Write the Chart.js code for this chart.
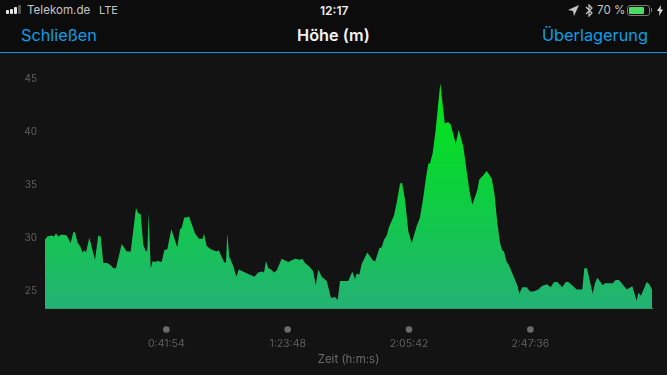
<!DOCTYPE html>
<html>
<head>
<meta charset="utf-8">
<script src="https://cdn.jsdelivr.net/npm/chart.js@4"></script>
<style>
  html, body { margin: 0; padding: 0; background: #131313; overflow: hidden; }
  #wrap { position: relative; width: 667px; height: 375px; overflow: hidden; font-family: Inter, Roboto, sans-serif; }
  #myChart { position: absolute; left: 0; top: 0; }
  #head { position: absolute; left: 0; top: 0; width: 667px; height: 52px; background: #0c0c0c; border-bottom: 1px solid #0a9ae0; z-index: 2; }
  #head span, #head svg, #head i { position: absolute; white-space: nowrap; }
  .st { top: 3px; font-size: 11.6px; line-height: 15px; color: #c4c4c4; }
  .nav { top: 25px; font-size: 16.3px; line-height: 21px; color: #0b9fe6; }
  .bar { display: block; width: 3px; background: #e8e8e8; border-radius: 1px; }
</style>
</head>
<body>
<div id="wrap">
  <canvas id="myChart" width="667" height="375"></canvas>
  <div id="head">
    <i class="bar" style="left:6px;top:10px;height:4px"></i>
    <i class="bar" style="left:10px;top:9px;height:5px"></i>
    <i class="bar" style="left:14px;top:7px;height:7px"></i>
    <i class="bar" style="left:18px;top:5px;height:9px;background:#555"></i>
    <span class="st" style="left:27px">Telekom.de</span>
    <span class="st" style="left:99px;font-size:11px">LTE</span>
    <span class="st" style="left:320px;color:#f0f0f0;font-weight:600;font-size:12px">12:17</span>
    <svg style="left:568px;top:5px" width="11" height="11" viewBox="0 0 11 11"><path d="M11 0L0 5L5 6L6 11Z" fill="#c4c4c4"/></svg>
    <svg style="left:585px;top:4px" width="8" height="13" viewBox="0 0 8 13"><path d="M1 3L7 9L4 12V1L7 4L1 10" fill="none" stroke="#c4c4c4" stroke-width="1.2"/></svg>
    <span class="st" style="left:597px">70 %</span>
    <i style="left:627px;top:5px;width:21px;height:9px;border:1px solid #777;border-radius:3px"></i>
    <i style="left:629px;top:7px;width:15px;height:7px;background:#4cd964;border-radius:1px"></i>
    <i style="left:651px;top:8px;width:1px;height:4px;background:#777"></i>
    <svg style="left:657px;top:5px" width="6" height="11" viewBox="0 0 6 11"><path d="M4 0L0 6H2.5L2 11L6 4.5H3.5Z" fill="#e0e0e0"/></svg>
    <span class="nav" style="left:21px">Schließen</span>
    <span class="nav" style="left:297px;color:#f2f2f2;font-weight:600">Höhe (m)</span>
    <span class="nav" style="left:542px">Überlagerung</span>
  </div>
</div>
<script>
const elapsedSeconds = [
  0, 48, 139, 186, 228, 276, 346, 450, 532, 586, 622, 678, 725, 781, 814, 850, 918, 1036, 1104, 1154,
  1208, 1291, 1361, 1415, 1471, 1589, 1693, 1776, 1885, 1933, 1983, 2037, 2093, 2120, 2149, 2190, 2232, 2279, 2327, 2418,
  2472, 2534, 2617, 2741, 2797, 2832, 2886, 2936, 2984, 3108, 3191, 3268, 3294, 3350, 3433, 3558, 3599, 3709, 3750, 3777,
  3819, 3902, 3964, 4014, 4144, 4248, 4337, 4420, 4490, 4538, 4579, 4627, 4683, 4745, 4801, 4904, 5041, 5180, 5284, 5331,
  5387, 5491, 5559, 5609, 5663, 5733, 5837, 5926, 6009, 6065, 6112, 6284, 6367, 6423, 6458, 6512, 6562, 6678, 6803, 6844,
  6927, 6977, 7024, 7080, 7128, 7231, 7287, 7356, 7397, 7459, 7528, 7598, 7702, 7770, 7838, 7888, 7942, 7977, 8033, 8095,
  8191, 8282, 8357, 8406, 8510, 8572, 8667, 8792, 8854, 8958, 8999, 9082, 9152, 9256, 9314, 9372, 9428, 9475, 9510, 9566,
  9614, 9794, 9827, 9889, 9981, 10049, 10117, 10221, 10291, 10395, 10478, 10546, 10615, 10718, 10789, 10843, 10946, 11017, 11133, 11174,
  11230, 11348, 11396, 11444, 11556, 11603, 11763, 11825, 11893, 12053, 12169, 12260, 12293, 12349, 12467, 12521, 12577,
];

const altitudeMeters = [
  29.7, 30.0, 30.1, 30.0, 30.3, 30.0, 30.2, 30.1, 29.4, 30.4, 30.4, 29.4, 29.1, 28.5, 28.7, 28.5, 29.9, 27.8, 30.1, 30.0,
  27.5, 27.5, 27.3, 27.0, 27.0, 29.3, 28.6, 28.6, 32.7, 32.2, 32.1, 29.2, 28.6, 28.7, 32.2, 27.0, 27.7, 27.6, 27.7, 27.6,
  28.7, 28.8, 30.7, 29.0, 30.7, 30.8, 31.8, 31.8, 31.9, 30.3, 29.8, 29.8, 30.3, 29.1, 28.8, 28.6, 28.7, 27.6, 27.5, 30.3,
  28.1, 27.2, 26.2, 26.9, 26.6, 26.4, 26.2, 26.6, 26.7, 26.6, 27.7, 27.0, 26.9, 26.6, 26.8, 27.9, 27.6, 27.9, 27.8, 27.9,
  27.5, 27.1, 26.7, 25.4, 26.9, 26.2, 25.8, 24.2, 24.3, 24.0, 25.8, 25.8, 26.7, 26.0, 26.5, 26.4, 27.4, 28.5, 27.7, 27.7,
  28.9, 29.0, 29.7, 30.1, 30.9, 32.0, 33.2, 35.0, 35.1, 33.5, 30.5, 29.4, 31.0, 31.8, 33.7, 35.4, 36.9, 36.9, 37.9, 40.1,
  44.5, 40.7, 40.8, 40.6, 38.8, 40.1, 38.5, 34.4, 33.0, 34.4, 35.4, 35.8, 36.2, 35.5, 34.0, 31.3, 29.4, 28.7, 28.6, 27.6,
  27.3, 25.3, 24.6, 25.2, 25.2, 24.8, 24.8, 25.0, 25.3, 25.5, 25.2, 25.7, 25.7, 25.2, 25.7, 25.7, 25.3, 25.0, 25.0, 27.0,
  27.0, 24.6, 25.6, 26.1, 25.4, 25.6, 25.6, 25.9, 25.9, 25.0, 25.3, 23.9, 24.7, 24.4, 25.7, 25.5, 25.0,
];

const xTickSeconds = [2514, 5028, 7542, 10056];
const xTickLabels = ['0:41:54', '1:23:48', '2:05:42', '2:47:36'];
const yTickValues = [25, 30, 35, 40, 45];

const axisGrey = '#5f5f5f';

function areaGradient(context) {
  const area = context.chart.chartArea;
  if (!area) return '#1fc060';
  const g = context.chart.ctx.createLinearGradient(0, 84, 0, area.bottom);
  g.addColorStop(0, 'rgb(0, 232, 18)');
  g.addColorStop(0.5, 'rgb(14, 206, 64)');
  g.addColorStop(1, 'rgb(35, 178, 117)');
  return g;
}

// grey dots sitting above each time label
const tickDots = {
  id: 'tickDots',
  afterDraw(chart) {
    const ctx = chart.ctx;
    ctx.save();
    ctx.fillStyle = '#6b6b6b';
    xTickSeconds.forEach((v) => {
      ctx.beginPath();
      ctx.arc(chart.scales.x.getPixelForValue(v), 329.5, 3.3, 0, Math.PI * 2);
      ctx.fill();
    });
    ctx.restore();
  },
};

const myChart = new Chart(document.getElementById('myChart'), {
  type: 'line',
  data: {
    labels: elapsedSeconds,
    datasets: [{
      data: elapsedSeconds.map((t, i) => ({ x: t, y: altitudeMeters[i] })),
      fill: 'start',
      backgroundColor: areaGradient,
      borderWidth: 0,
      pointRadius: 0,
      tension: 0,
    }],
  },
  options: {
    responsive: false,
    animation: false,
    layout: { padding: { top: 62, right: 15, left: 0, bottom: 0 } },
    plugins: { legend: { display: false }, tooltip: { enabled: false } },
    scales: {
      x: {
        type: 'linear',
        min: 0,
        max: 12577,
        grid: { display: false, drawTicks: false },
        border: { color: '#1f9c60', width: 1 },
        afterBuildTicks: (scale) => { scale.ticks = xTickSeconds.map((v) => ({ value: v })); },
        afterFit: (scale) => { scale.height = 67; },
        ticks: {
          maxRotation: 0,
          autoSkip: false,
          color: axisGrey,
          padding: 30,
          font: { family: 'Inter, Roboto, sans-serif', size: 10.5 },
          callback: (v, i) => xTickLabels[i],
        },
        title: {
          display: true,
          text: 'Zeit (h:m:s)',
          color: '#6a6a6a',
          padding: { top: 3, bottom: 9 },
          font: { family: 'Inter, Roboto, sans-serif', size: 11.5 },
        },
      },
      y: {
        min: 23.25,
        max: 46.5,
        grid: { display: false, drawTicks: false },
        border: { display: false },
        afterBuildTicks: (scale) => { scale.ticks = yTickValues.map((v) => ({ value: v })); },
        afterFit: (scale) => { scale.width = 45; },
        ticks: {
          color: axisGrey,
          padding: 8,
          // empty first line nudges the number down a little
          font: { family: 'Inter, Roboto, sans-serif', size: 10, lineHeight: '3px' },
          callback: (v) => ['', String(v)],
        },
      },
    },
  },
  plugins: [tickDots],
});
</script>
</body>
</html>
